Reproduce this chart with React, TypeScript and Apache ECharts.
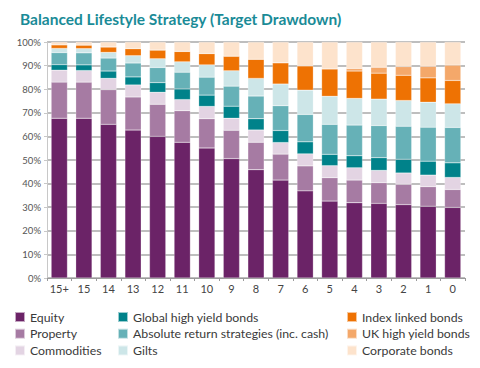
import React, { useEffect, useRef } from "react";
import * as echarts from "echarts";

const categories = ["15+", "15", "14", "13", "12", "11", "10", "9", "8", "7", "6", "5", "4", "3", "2", "1", "0"];

const equity = [67.7, 67.7, 65.1, 62.7, 60.0, 57.5, 55.1, 50.6, 45.9, 41.5, 36.9, 32.6, 31.9, 31.6, 31.1, 30.4, 29.9];
const property = [15.3, 15.3, 14.7, 14.0, 13.6, 13.4, 12.4, 12.0, 11.6, 11.0, 10.6, 9.9, 9.6, 8.8, 8.6, 8.3, 7.6];
const commodities = [5.1, 4.9, 4.8, 5.1, 5.1, 4.7, 5.2, 5.1, 5.2, 4.9, 5.1, 5.1, 5.2, 5.2, 4.8, 4.9, 5.1];
const globalHighYield = [2.3, 2.4, 3.1, 3.4, 4.1, 4.5, 4.8, 5.1, 4.8, 5.1, 5.1, 4.8, 5.1, 5.4, 5.8, 5.9, 6.2];
const absoluteReturn = [5.1, 5.1, 5.5, 5.9, 6.4, 7.1, 7.6, 8.5, 9.6, 10.5, 11.6, 12.7, 13.0, 13.6, 14.0, 14.4, 15.0];
const gilts = [1.8, 1.8, 2.4, 3.1, 3.7, 4.4, 5.2, 6.5, 7.5, 9.2, 10.3, 11.9, 11.3, 11.2, 10.9, 10.6, 10.0];
const indexLinked = [1.5, 1.5, 2.3, 3.0, 3.7, 4.4, 4.8, 6.2, 8.1, 9.0, 10.3, 11.6, 11.6, 11.0, 10.7, 10.3, 9.9];
const ukHighYield = [0, 0, 0, 0, 0, 0, 0, 0, 0, 0, 0, 0, 1.1, 2.5, 3.7, 4.9, 6.5];
const corporate = [1.2, 1.3, 2.1, 2.8, 3.4, 4.0, 4.9, 6.0, 7.3, 8.8, 10.1, 11.4, 11.2, 10.7, 10.4, 10.3, 9.8];

const yTicks = ["0%", "10%", "20%", "30%", "40%", "50%", "60%", "70%", "80%", "90%", "100%"];

const seriesDefs = [
  { name: "Equity", data: equity, color: "#6B2367" },
  { name: "Property", data: property, color: "#A67BA3" },
  { name: "Commodities", data: commodities, color: "#E3D4E3" },
  { name: "Global high yield bonds", data: globalHighYield, color: "#00828A" },
  { name: "Absolute return strategies (inc. cash)", data: absoluteReturn, color: "#66B1B7" },
  { name: "Gilts", data: gilts, color: "#CDE6E8" },
  { name: "Index linked bonds", data: indexLinked, color: "#EE7203" },
  { name: "UK high yield bonds", data: ukHighYield, color: "#F4A86A" },
  { name: "Corporate bonds", data: corporate, color: "#FDE3CC" },
];

const FONT = "Lato, 'Noto Sans', sans-serif";

export default function App() {
  const ref = useRef<HTMLDivElement>(null);
  useEffect(() => {
    if (!ref.current) return;
    const chart = echarts.init(ref.current, null, { renderer: "svg" });
    const legendText = { fontFamily: FONT, fontSize: 12.3, color: "#3a3a3a", lineHeight: 12 };
    const legendBase = {
      orient: "vertical" as const,
      top: 306,
      height: 60,
      itemWidth: 10,
      itemHeight: 10,
      itemGap: 4.7,
      icon: "rect",
      textStyle: legendText,
      selectedMode: false,
    };
    chart.setOption({
      animation: false,
      backgroundColor: "#ffffff",
      title: {
        text: "Balanced Lifestyle Strategy (Target Drawdown)",
        left: 15,
        top: 6,
        textStyle: { fontFamily: FONT, fontSize: 15.5, fontWeight: "bold", color: "#1A8B97" },
      },
      grid: { left: 47, right: 15, top: 42, bottom: 90 },
      legend: [
        { ...legendBase, left: 9, data: ["Equity", "Property", "Commodities"] },
        { ...legendBase, left: 112, data: ["Global high yield bonds", "Absolute return strategies (inc. cash)", "Gilts"] },
        { ...legendBase, left: 341, data: ["Index linked bonds", "UK high yield bonds", "Corporate bonds"] },
      ],
      xAxis: {
        type: "category",
        data: categories,
        axisLine: { lineStyle: { color: "#9a9a9a", width: 1 } },
        axisTick: { show: true, length: 3, lineStyle: { color: "#9a9a9a" } },
        axisLabel: { fontFamily: FONT, fontSize: 11, color: "#444", margin: 5, interval: 0 },
      },
      yAxis: {
        type: "value",
        min: 0,
        max: 100,
        interval: 10,
        axisLine: { show: true, lineStyle: { color: "#c8c8c8" } },
        axisTick: { show: true, length: 3, lineStyle: { color: "#c8c8c8" } },
        axisLabel: {
          fontFamily: FONT,
          fontSize: 9.5,
          color: "#555",
          margin: 6,
          formatter: (v: number) => yTicks[Math.round(v / 10)],
        },
        splitLine: { lineStyle: { color: "#a8a8a8", width: 1.5 } },
      },
      series: seriesDefs.map((s) => ({
        name: s.name,
        type: "bar",
        stack: "total",
        data: s.data,
        barCategoryGap: "34%",
        itemStyle: { color: s.color, borderColor: "rgba(255,255,255,0.6)", borderWidth: 0.4 },
      })),
    });
    return () => chart.dispose();
  }, []);
  return <div ref={ref} style={{ width: 480, height: 368, position: "absolute", left: 0, top: 0 }} />;
}
